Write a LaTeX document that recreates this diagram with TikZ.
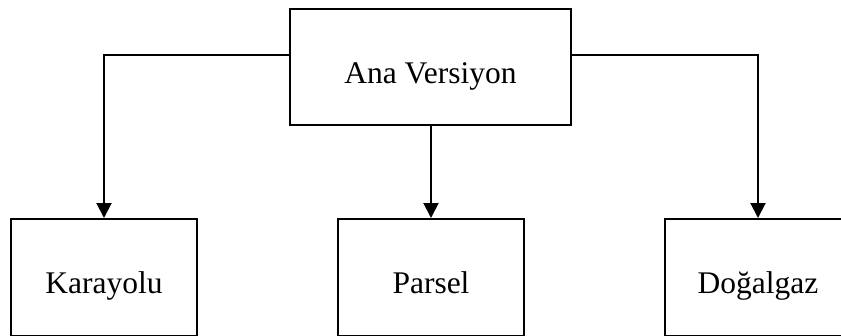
\documentclass[tikz,border=0pt]{standalone}
\usepackage{fontspec}
\setmainfont{Liberation Serif}
\usetikzlibrary{arrows.meta}
\begin{document}
\begin{tikzpicture}[x=1pt,y=-1pt,
  box/.style={draw=black, line width=2pt, rectangle, inner sep=0pt,
    font=\fontsize{31.5}{38}\selectfont, text depth=0pt},
  topbox/.style={box, minimum width=281pt, minimum height=116pt, text height=33pt},
  leaf/.style={box, minimum width=186pt, minimum height=116.5pt, text height=31.5pt},
  arr/.style={draw=black, line width=2pt, -{Triangle[length=15pt,width=15pt]}}]
\useasboundingbox[fill=white] (0,0) rectangle (841,335);
\node[topbox] (top) at (430.5,67) {Ana Versiyon};
\node[leaf] (kar) at (104,277.25) {Karayolu};
\node[leaf] (par) at (431,277.25) {Parsel};
\node[leaf] (dog) at (758,277.25) {Doğalgaz};
\draw[arr] ([yshift=12pt]top.west) -| (kar.north);
\draw[arr] ([yshift=12pt]top.east) -| (dog.north);
\draw[arr] (par.north |- top.south) -- (par.north);
\end{tikzpicture}
\end{document}
